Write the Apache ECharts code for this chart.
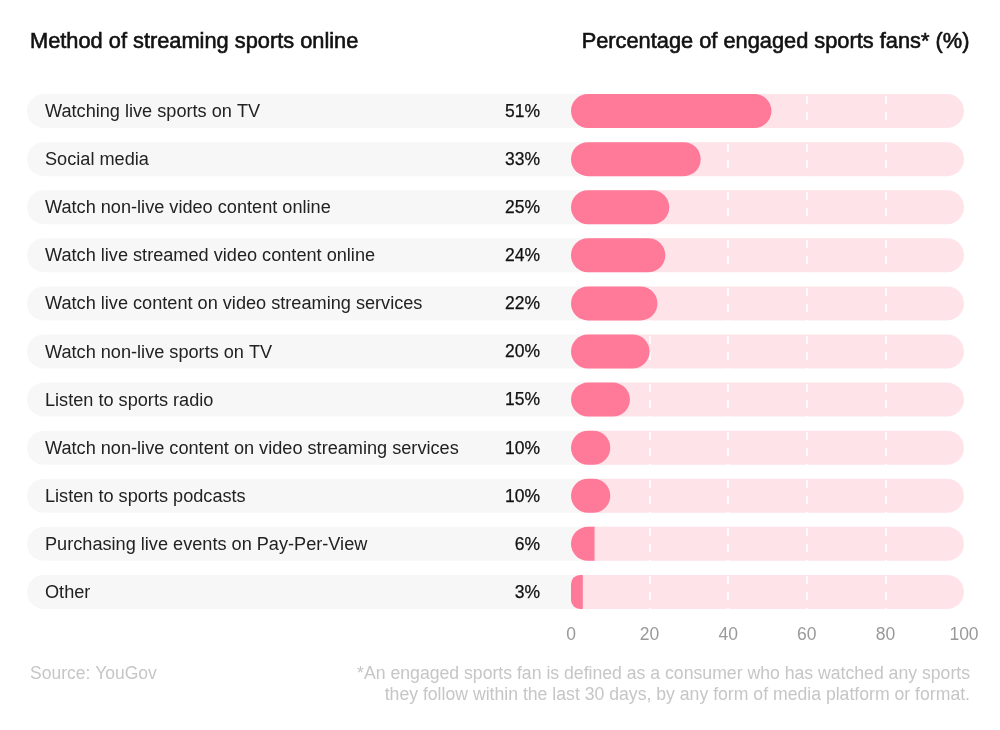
<!DOCTYPE html>
<html><head><meta charset="utf-8">
<style>html,body{margin:0;padding:0;background:#fff}#c{width:1000px;height:730px}</style>
<script src="https://cdn.jsdelivr.net/npm/echarts@6/dist/echarts.min.js"></script>
</head><body><div id="c"></div>
<script>
const categories = ["Watching live sports on TV","Social media","Watch non-live video content online","Watch live streamed video content online","Watch live content on video streaming services","Watch non-live sports on TV","Listen to sports radio","Watch non-live content on video streaming services","Listen to sports podcasts","Purchasing live events on Pay-Per-View","Other"];
const values = [51,33,25,24,22,20,15,10,10,6,3];
const axisTicks = [0,20,40,60,80,100];
const FONT = '"Liberation Sans", Arial, sans-serif';
const chart = echarts.init(document.getElementById('c'), null, {renderer:'canvas'});
const txt = (text,pos,size,color,extra)=>({text,...pos,padding:0,textStyle:{fontFamily:FONT,fontSize:size,color,fontWeight:'normal',lineHeight:21,...(extra||{})}});
const heavy = {textBorderColor:'#111',textBorderWidth:0.6};
const valueData = values.map(v=>({value:v,itemStyle:{borderRadius: v>=10?[17,17,17,17]:(v>=6?[17,0,0,17]:[9,0,0,9])}}));
chart.setOption({
  animation:false,
  backgroundColor:'#fff',
  title:[
    txt('Method of streaming sports online',{left:30,top:31},21.8,'#111',heavy),
    txt('Percentage of engaged sports fans* (%)',{right:30,top:31},21.8,'#111',heavy),
    txt('Source: YouGov',{left:30,top:664},17.5,'#c6c6c6'),
    {...txt('*An engaged sports fan is defined as a consumer who has watched any sports\nthey follow within the last 30 days, by any form of media platform or format.',{left:970,top:664},17.65,'#c6c6c6'),textAlign:'right'}
  ],
  grid:[
    {left:27,width:561,top:87,height:529},
    {left:571,width:393,top:87,height:529}
  ],
  xAxis:[
    {gridIndex:0,type:'value',min:0,max:1,show:false},
    {gridIndex:1,type:'value',min:0,max:100,interval:20,z:1,
     axisLine:{show:false},axisTick:{show:false},
     axisLabel:{color:'#999',fontSize:17.5,fontFamily:FONT,margin:10,formatter:v=>axisTicks.includes(v)?String(v):''},
     splitLine:{show:true,showMinLine:false,showMaxLine:false,lineStyle:{color:'rgba(255,255,255,0.85)',width:2,type:[8,8],dashOffset:7}}}
  ],
  yAxis:[
    {gridIndex:0,type:'category',inverse:true,data:categories,z:6,
     axisLine:{show:false},axisTick:{show:false},
     axisLabel:{inside:true,margin:18,formatter:v=>'{a|'+v+'}',rich:{a:{color:'#222',fontSize:18.15,fontFamily:FONT,padding:[2,0,0,0]}}}},
    {gridIndex:1,type:'category',inverse:true,data:values.map(v=>v+'%'),z:6,
     axisLine:{show:false},axisTick:{show:false},
     axisLabel:{margin:31,formatter:v=>'{a|'+v+'}',rich:{a:{color:'#111',fontSize:17.5,fontFamily:FONT,textBorderColor:'#111',textBorderWidth:0.25,padding:[2,0,0,0]}}}}
  ],
  series:[
    {type:'bar',name:'row',xAxisIndex:0,yAxisIndex:0,z:0,barWidth:34,silent:true,data:values.map(()=>1),
     itemStyle:{color:'#f7f7f7',borderRadius:[17,0,0,17]}},
    {type:'bar',name:'track',xAxisIndex:1,yAxisIndex:1,z:0,barWidth:34,barGap:'-100%',silent:true,data:values.map(()=>100),
     itemStyle:{color:'#fee4e9',borderRadius:[17,17,17,17]}},
    {type:'bar',name:'Percentage of engaged sports fans',xAxisIndex:1,yAxisIndex:1,z:3,barWidth:34,barGap:'-100%',data:valueData,
     itemStyle:{color:'#ff7a98'}}
  ]
});
</script></body></html>
